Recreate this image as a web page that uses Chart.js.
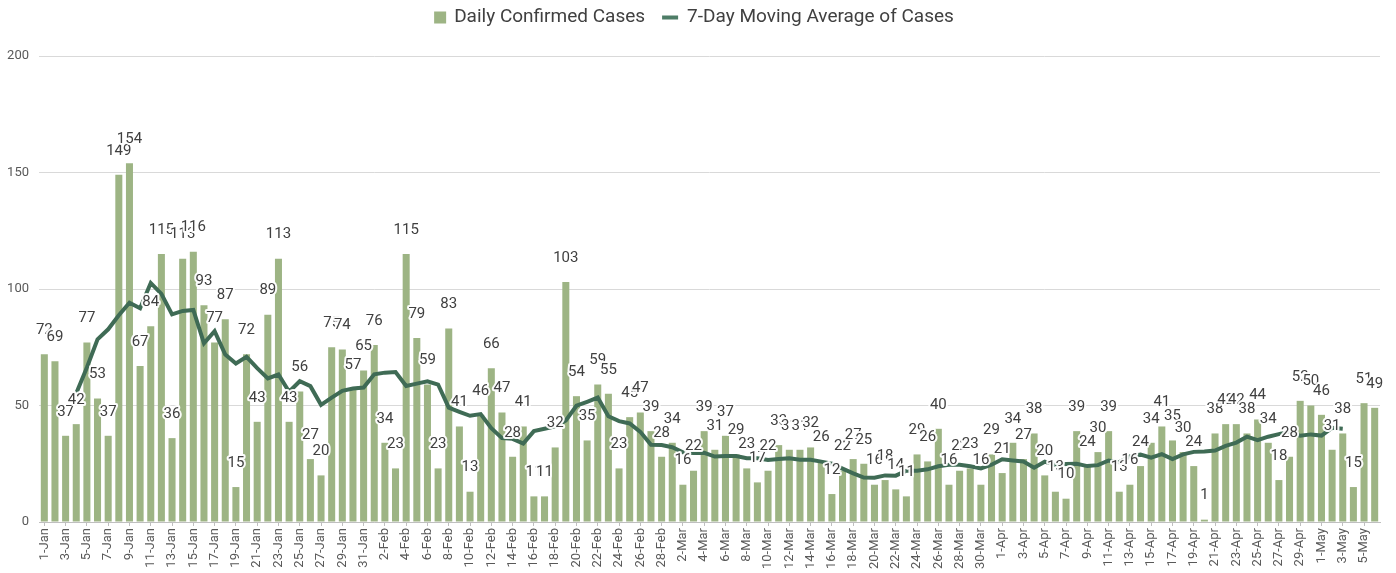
<!DOCTYPE html>
<html>
<head>
<meta charset="utf-8">
<script src="https://cdn.jsdelivr.net/npm/chart.js@4/dist/chart.umd.min.js"></script>
<style>
html,body{margin:0;padding:0;background:#fff;}
#wrap{width:1396px;height:573px;position:relative;}
</style>
</head>
<body>
<div id="wrap"><canvas id="c" width="1396" height="573"></canvas></div>
<script>
// ---- data ----
const monthNames = ['Jan','Feb','Mar','Apr','May'];
const monthDays = [31, 28, 31, 30, 6];
const dates = [];
monthNames.forEach((m, k) => { for (let d = 1; d <= monthDays[k]; d++) dates.push(d + '-' + m); });

const dailyCases = [
  72,69,37,42,77,53,37,149,154,67,84,115,36,113,116,93,77,87,15,72,
  43,89,113,43,56,27,20,75,74,57,65,76,34,23,115,79,59,23,83,41,
  13,46,66,47,28,41,11,11,32,103,54,35,59,55,23,45,47,39,28,34,
  16,22,39,31,37,29,23,17,22,33,31,31,32,26,12,22,27,25,16,18,
  14,11,29,26,40,16,22,23,16,29,21,34,27,38,20,13,10,39,24,30,
  39,13,16,24,34,41,35,30,24,1,38,42,42,38,44,34,18,28,52,50,
  46,31,38,15,51,49
];

const movingAvg = [
  null,null,null,55.3,66.3,78.4,82.7,88.7,94.1,91.7,102.6,97.9,89.1,90.6,91.0,76.7,81.9,71.9,68.0,70.9,
  66.0,61.6,63.3,55.9,60.4,58.3,50.3,53.4,56.3,57.3,57.7,63.4,64.1,64.4,58.4,59.4,60.4,59.0,49.1,47.3,
  45.6,46.3,40.3,36.0,35.7,33.7,39.0,40.0,41.0,43.6,49.9,51.6,53.4,45.4,43.3,42.3,38.7,33.1,33.0,32.1,
  29.9,29.6,29.7,28.1,28.3,28.3,27.4,27.4,26.6,27.0,27.4,26.7,26.7,25.9,25.0,22.9,20.9,19.1,19.0,20.0,
  19.9,22.0,22.0,22.6,23.9,24.6,24.6,23.9,23.0,24.6,26.9,26.4,26.0,23.3,25.9,24.4,24.9,25.0,24.0,24.4,
  26.4,25.7,28.1,28.9,27.6,29.1,27.0,29.0,30.1,30.3,30.7,32.7,34.1,36.6,35.1,36.6,37.7,38.9,37.0,37.6,
  37.1,40.4,40.0,null,null,null
];

const yTicks = [0, 50, 100, 150, 200];
const seriesNames = ['Daily Confirmed Cases', '7-Day Moving Average of Cases'];

const barColor = '#9db484';
const lineColor = '#3f6b55';
const FONT = 'Roboto, "Liberation Sans", Arial, sans-serif';

// data labels with white halo
const labelPlugin = {
  id: 'barLabels',
  afterDatasetsDraw(chart) {
    const meta = chart.getDatasetMeta(1);
    const ctx = chart.ctx;
    ctx.save();
    ctx.font = '15px ' + FONT;
    ctx.textAlign = 'center';
    ctx.textBaseline = 'middle';
    ctx.lineJoin = 'round';
    meta.data.forEach((el, i) => {
      const v = dailyCases[i];
      const x = el.x, y = el.y - 24;
      ctx.strokeStyle = 'rgba(255,255,255,0.95)';
      ctx.lineWidth = 4;
      ctx.strokeText(String(v), x, y);
      ctx.fillStyle = '#404040';
      ctx.fillText(String(v), x, y);
    });
    ctx.restore();
  }
};

// custom legend
const legendPlugin = {
  id: 'topLegend',
  afterDraw(chart) {
    const ctx = chart.ctx;
    ctx.save();
    ctx.font = '19px ' + FONT;
    ctx.textBaseline = 'middle';
    ctx.textAlign = 'left';
    const w1 = ctx.measureText(seriesNames[0]).width;
    const w2 = ctx.measureText(seriesNames[1]).width;
    const total = 12 + 8 + w1 + 17 + 16 + 9 + w2;
    let x = 694 - total / 2;
    const yc = 17.5;
    ctx.fillStyle = barColor;
    ctx.fillRect(x, yc - 6, 12, 12);
    x += 20;
    ctx.fillStyle = '#404040';
    ctx.fillText(seriesNames[0], x, yc);
    x += w1 + 17;
    ctx.fillStyle = '#4e7d67';
    ctx.fillRect(x, yc - 2, 16, 4);
    x += 25;
    ctx.fillStyle = '#404040';
    ctx.fillText(seriesNames[1], x, yc);
    ctx.restore();
  }
};

new Chart(document.getElementById('c'), {
  data: {
    labels: dates,
    datasets: [
      {
        type: 'line',
        label: seriesNames[1],
        data: movingAvg,
        borderColor: lineColor,
        backgroundColor: lineColor,
        borderWidth: 4,
        pointRadius: 0,
        tension: 0,
        spanGaps: false,
        order: 0
      },
      {
        type: 'bar',
        label: seriesNames[0],
        data: dailyCases,
        backgroundColor: barColor,
        borderWidth: 0,
        barPercentage: 0.66,
        categoryPercentage: 1.0,
        order: 1
      }
    ]
  },
  options: {
    responsive: false,
    animation: false,
    devicePixelRatio: 1,
    layout: { padding: { top: 56, left: 0, right: 16, bottom: 0 } },
    plugins: {
      legend: { display: false },
      tooltip: { enabled: false },
      title: { display: false }
    },
    scales: {
      x: {
        offset: true,
        grid: { display: true, drawOnChartArea: false, drawTicks: true, tickLength: 4, color: '#bfbfbf', offset: false },
        border: { display: true, color: '#bfbfbf', width: 1 },
        ticks: {
          autoSkip: false,
          minRotation: 90,
          maxRotation: 90,
          padding: 2,
          color: '#595959',
          font: { family: FONT, size: 13 },
          callback: function (value, index) { return index % 2 === 0 ? this.getLabelForValue(value) : null; }
        },
        afterFit(scale) { scale.height = 51; }
      },
      y: {
        min: 0,
        max: 200,
        afterBuildTicks(scale) { scale.ticks = yTicks.map(v => ({ value: v })); },
        grid: { color: '#d9d9d9', lineWidth: 1, drawTicks: false },
        border: { display: false },
        ticks: { padding: 10, color: '#595959', font: { family: FONT, size: 13 } },
        afterFit(scale) { scale.width = 39; }
      }
    }
  },
  plugins: [labelPlugin, legendPlugin]
});
</script>
</body>
</html>
